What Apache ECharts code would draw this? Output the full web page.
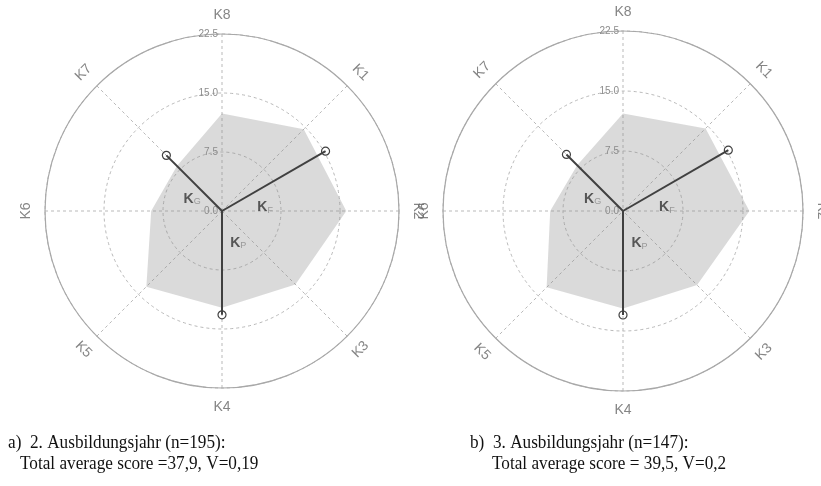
<!DOCTYPE html>
<html><head><meta charset="utf-8">
<script src="https://cdn.jsdelivr.net/npm/echarts@6/dist/echarts.min.js"></script>
<style>html,body{margin:0;padding:0;background:#fff}#c{width:821px;height:486px}</style>
</head><body><div id="c"></div>
<script>
// ---- data ----
const categories = ['K8','K1','K2','K3','K4','K5','K6','K7'];
const categoryAngles = [0, 45, 90, 135, 180, 225, 270, 315]; // clockwise from top
const radiusTicks = [0, 7.5, 15, 22.5];
const scoresA = [12.4, 14.7, 15.8, 13.2, 12.3, 13.6, 9.0, 8.1];
const scoresB = [12.2, 14.6, 15.8, 13.1, 12.2, 13.5, 9.1, 8.1];
const vectorNames = ['F', 'G', 'P'];
const vectorAngles = [60, 315, 180];
const vectorsA = [15.2, 10.0, 13.2];
const vectorsB = [15.2, 10.0, 13.0];
const captionsA = ['a)  2. Ausbildungsjahr (n=195):', 'Total average score =37,9, V=0,19'];
const captionsB = ['b)  3. Ausbildungsjahr (n=147):', 'Total average score = 39,5, V=0,2'];

// ---- layout / style ----
const polars = [{center: [222, 211], radius: 177}, {center: [623, 211], radius: 180}];
const labelRadius = 24.9;
const vectorLabelAnchors = [[5.5, 85], [4.1, 292], [4.55, 153]]; // annotation anchors [r, angle]
const gridColor = '#b9b9b9';
const sans = '"Liberation Sans", Arial, sans-serif';

function rot(a) {
  let r = -a + ((a > 90 && a < 270) ? 180 : 0);
  while (r <= -180) r += 360;
  while (r > 180) r -= 360;
  return r;
}

const chart = echarts.init(document.getElementById('c'), null, {renderer: 'canvas'});
const sets = [{scores: scoresA, vectors: vectorsA}, {scores: scoresB, vectors: vectorsB}];
const series = [];
sets.forEach((s, i) => {
  const poly = categories.map((c, k) => [s.scores[k], categoryAngles[k]]);
  poly.push([s.scores[0], 360]);
  series.push({
    type: 'line', coordinateSystem: 'polar', polarIndex: i, data: poly,
    symbol: 'none', silent: true, animation: false, z: 1,
    lineStyle: {width: 0, opacity: 0},
    areaStyle: {color: 'rgba(140,140,140,0.32)', opacity: 1}
  });
  vectorNames.forEach((n, j) => {
    series.push({
      type: 'line', coordinateSystem: 'polar', polarIndex: i,
      data: [{value: [0, vectorAngles[j]], symbol: 'none'}, {value: [s.vectors[j], vectorAngles[j]]}],
      symbol: 'circle', symbolSize: 8, showSymbol: true, animation: false, silent: true, z: 5,
      lineStyle: {color: '#404040', width: 2},
      itemStyle: {color: 'rgba(255,255,255,0)', borderColor: '#404040', borderWidth: 1.2}
    });
  });
  series.push({
    type: 'scatter', coordinateSystem: 'polar', polarIndex: i, clip: false,
    symbolSize: 1, itemStyle: {color: 'rgba(0,0,0,0)'}, silent: true, animation: false, z: 6,
    data: categories.map((c, k) => ({name: c, value: [labelRadius, categoryAngles[k]], label: {rotate: rot(categoryAngles[k])}})),
    label: {show: true, position: 'inside', formatter: '{b}', color: '#666', fontSize: 14, fontFamily: sans}
  });
  series.push({
    type: 'scatter', coordinateSystem: 'polar', polarIndex: i, clip: false,
    symbolSize: 1, itemStyle: {color: 'rgba(0,0,0,0)'}, silent: true, animation: false, z: 6,
    data: vectorNames.map((n, j) => ({name: n, value: vectorLabelAnchors[j]})),
    label: {show: true, position: 'inside', formatter: p => '{k|K}{s|' + p.name + '}',
      rich: {
        k: {fontSize: 14, fontWeight: 'bold', color: '#333', fontFamily: sans},
        s: {fontSize: 9, color: '#888', padding: [6, 0, 0, 0], fontFamily: sans}
      }}
  });
});

const captionStyle = {font: '18.5px "Liberation Serif", "Times New Roman", serif', fill: '#111', textVerticalAlign: 'middle'};
function cap(text, x, y) {
  return {type: 'text', x: x, y: y, scaleX: 0.93, silent: true, style: Object.assign({text: text}, captionStyle)};
}
chart.setOption({
  backgroundColor: '#fff',
  animation: false,
  polar: polars,
  angleAxis: polars.map((p, i) => ({
    polarIndex: i, type: 'value', min: 0, max: 360, interval: 45, startAngle: 90, clockwise: true,
    axisLine: {show: true, lineStyle: {color: '#a8a8a8', width: 1.2}},
    axisTick: {show: false}, axisLabel: {show: false},
    splitLine: {show: true, lineStyle: {color: gridColor, width: 1, type: [3, 3]}}
  })),
  radiusAxis: polars.map((p, i) => ({
    polarIndex: i, type: 'value', min: radiusTicks[0], max: radiusTicks[radiusTicks.length - 1],
    interval: radiusTicks[1] - radiusTicks[0],
    axisLine: {show: false}, axisTick: {show: false},
    axisLabel: {formatter: v => v.toFixed(1), color: '#8c8c8c', fontSize: 10, margin: 4, fontFamily: sans},
    splitLine: {show: true, lineStyle: {color: gridColor, width: 1, type: [3, 3]}}
  })),
  graphic: [
    cap(captionsA[0], 8, 443),
    cap(captionsA[1], 20, 464),
    cap(captionsB[0], 470, 443),
    cap(captionsB[1], 492, 464)
  ],
  series: series
});
</script>
</body></html>
